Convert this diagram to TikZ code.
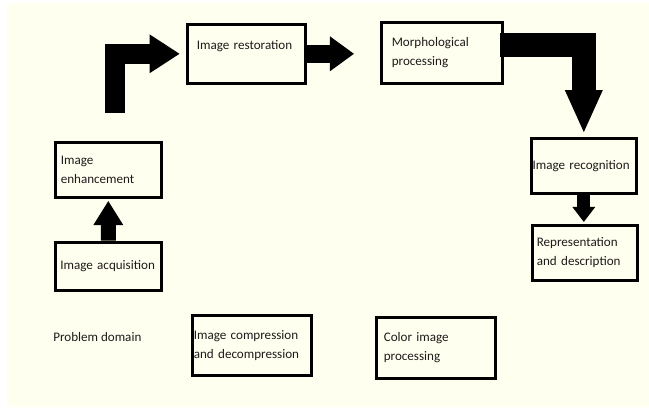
\documentclass[tikz,border=0pt]{standalone}
\usepackage{fontspec}
\setmainfont{Carlito}
\usetikzlibrary{arrows.meta}
\definecolor{cream}{RGB}{255,255,239}
\definecolor{ink}{RGB}{30,26,27}

\begin{document}
\begin{tikzpicture}[x=0.25mm, y=-0.25mm, font=\fontsize{9.3}{13.6}\selectfont,
    stage/.style={draw, line width=0.9mm, anchor=north west, align=left,
      inner ysep=0pt, text=ink},
    fat/.style={line width=#1, line join=miter}]
  \useasboundingbox (0,0) rectangle (649,407);
  \fill[cream] (7,3) rectangle (649,407);
  %% left column
  \node[stage, minimum height=13.75mm, inner xsep=1.375mm, text width=23.75mm]
    (enh) at (53.5,140.5) {Image\\enhancement};
  \node[stage, minimum height=12mm, inner xsep=1.25mm, text width=24mm]
    (acq) at (53.5,240.5) {Image acquisition};
  \node[anchor=west, inner sep=0pt, text=ink] (dom) at (53,337) {Problem domain};
  %% top row
  \node[stage, minimum height=14.75mm, inner xsep=2.375mm, text width=24.75mm,
    text depth=12pt] (res) at (185.5,22.5) {Image restoration};
  \node[stage, minimum height=15.25mm, inner xsep=2.625mm, text width=25mm]
    (morph) at (379.5,20.5) {Morphological\\processing};
  %% right column
  \node[stage, minimum height=13.75mm, inner xsep=0.3mm, text width=25.65mm]
    (rec) at (529.5,136.5) {Image recognition};
  \node[stage, minimum height=13.75mm, inner xsep=1.125mm, text width=24mm]
    (rep) at (530.5,223.5) {Representation\\and description};
  %% bottom row
  \node[stage, minimum height=15mm, inner xsep=0.375mm, text width=29mm]
    (comp) at (190.5,313.5) {Image compression\\and decompression};
  \node[stage, minimum height=15.25mm, inner xsep=1.875mm, text width=26mm]
    (color) at (374.5,315.5) {Color image\\processing};
  %% block arrows
  \coordinate (bend1) at (114.5,113);
  \coordinate (bend2) at (500,45);
  \draw[fat=5mm, -{Triangle[length=7.5mm, width=9.75mm, line width=0pt]},
    shorten >=1.5mm] (bend1) |- (res.west);
  \draw[fat=4.5mm, -{Triangle[length=6mm, width=8.75mm, line width=0pt]},
    shorten >=6.4mm] (res.east) -- (res.east -| morph.west);
  \draw[fat=6mm, -{Triangle[length=10.5mm, width=9.5mm, line width=0pt]},
    shorten >=1.1mm] (bend2) -| (rec.north);
  \draw[fat=3.25mm, -{Triangle[length=3.75mm, width=5.75mm, line width=0pt]},
    shorten >=0.4mm] (rec.south) -- (rec.south |- rep.north);
  \draw[fat=3.75mm, -{Triangle[length=6mm, width=7.5mm, line width=0pt]},
    shorten >=0.5mm] (acq.north) -- (enh.south);
\end{tikzpicture}
\end{document}
